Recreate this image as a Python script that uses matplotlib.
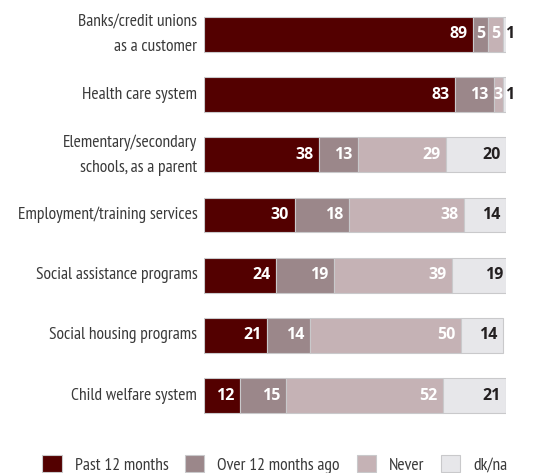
import numpy as np
import matplotlib
matplotlib.use('Agg')
import matplotlib.pyplot as plt
from matplotlib.patches import Patch
from matplotlib import font_manager as fm

# pick a narrow sans for the labels (the original uses a condensed face)
available = set(f.name for f in fm.fontManager.ttflist)
narrow = 'DejaVu Sans'
for cand in ['PT Sans Narrow', 'Open Sans Condensed', 'Roboto Condensed', 'Fira Sans Condensed',
             'Asap Condensed', 'Encode Sans Condensed', 'IBM Plex Sans Condensed',
             'Archivo Narrow', 'Liberation Sans Narrow', 'Arimo Narrow']:
    if cand in available:
        narrow = cand
        break
label_size = 12.6 if narrow != 'DejaVu Sans' else 9.5
plt.rcParams['font.family'] = [narrow, 'DejaVu Sans']

# data, top row first
categories = ['Banks/credit unions\nas a customer', 'Health care system',
              'Elementary/secondary\nschools, as a parent', 'Employment/training services',
              'Social assistance programs', 'Social housing programs', 'Child welfare system']
past_12 = [89, 83, 38, 30, 24, 21, 12]
over_12 = [5, 13, 13, 18, 19, 14, 15]
never = [5, 3, 29, 38, 39, 50, 52]
dk_na = [1, 1, 20, 14, 19, 14, 21]

series = [('Past 12 months', past_12, '#530000', 'white'),
          ('Over 12 months ago', over_12, '#9b878a', 'white'),
          ('Never', never, '#c5b2b5', 'white'),
          ('dk/na', dk_na, '#e7e7ea', '#231f20')]

fig = plt.figure(figsize=(5.37, 4.73), dpi=100)
ax = fig.add_axes([204 / 537, 0.1002, 302 / 537, 0.8905])

y = np.arange(len(categories))
left = np.zeros(len(categories))
for name, vals, col, tcol in series:
    vals = np.array(vals, dtype=float)
    ax.barh(y, vals, left=left, height=0.58, color=col, edgecolor='#c9c9cb', linewidth=0.8)
    for i, v in enumerate(vals):
        end = left[i] + v
        kw = dict(va='center', fontsize=11.5, fontweight='bold', family='Open Sans')
        if v <= 1:
            ax.text(end - 0.4, y[i], '%d' % v, ha='left', color='#231f20', **kw)
        elif v < 8:
            ax.text(left[i] + v / 2, y[i], '%d' % v, ha='center', color=tcol, **kw)
        else:
            ax.text(end - 1.8, y[i], '%d' % v, ha='right', color=tcol, **kw)
    left += vals

for i, c in enumerate(categories):
    ax.text(-2.2, y[i], c, ha='right', va='center', color='#3a3a3a', fontsize=label_size,
            linespacing=1.75)

ax.set_xlim(0, 100)
ax.set_ylim(len(categories) - 0.5, -0.5)
ax.axis('off')

handles = [Patch(facecolor=col, edgecolor='#c9c9cb', linewidth=0.8) for _, _, col, _ in series]
fig.legend(handles, [s[0] for s in series], loc='center', bbox_to_anchor=(0.512, 0.018),
           ncol=4, frameon=False, fontsize=label_size, handlelength=1.1, handleheight=1.1,
           handletextpad=0.75, columnspacing=0.95, labelcolor='#3a3a3a')

fig.savefig('out.png', dpi=100)
